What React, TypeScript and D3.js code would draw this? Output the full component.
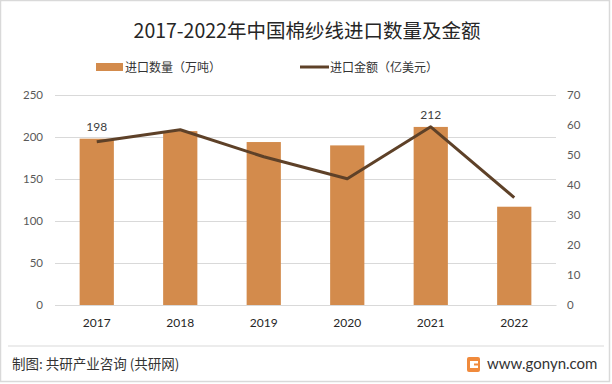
import { useEffect, useRef } from 'react';
import * as d3 from 'd3';

const years = ['2017', '2018', '2019', '2020', '2021', '2022'];
const volume = [198, 207, 194, 190, 212, 117]; // 万吨
const amount = [54.4, 58.4, 49.4, 42.1, 59.4, 35.8]; // 亿美元
const leftTicks = [0, 50, 100, 150, 200, 250];
const rightTicks = [0, 10, 20, 30, 40, 50, 60, 70];
const labelled = ['2017', '2021'];

const CJK = "'Noto Sans CJK SC', sans-serif";
const NUM = "Lato, 'Noto Sans CJK SC', sans-serif";

const App = () => {
    const svgRef = useRef<SVGSVGElement>(null);

    useEffect(() => {
        if (!svgRef.current) return;
        const svg = d3.select(svgRef.current);
        svg.selectAll('*').remove();

        const W = 612, H = 384;
        const margin = { top: 95, right: 56, bottom: 79, left: 55 };
        const width = W - margin.left - margin.right;
        const height = H - margin.top - margin.bottom;

        // background + outer border
        svg.append('rect').attr('x', 0.5).attr('y', 0.5).attr('width', W - 3).attr('height', H - 3)
            .attr('fill', '#fff').attr('stroke', '#d9d9d9').attr('stroke-width', 1.5);

        const x = d3.scaleBand().domain(years).range([0, width]).paddingInner(0.59).paddingOuter(0.295);
        const yL = d3.scaleLinear().domain([0, 250]).range([height, 0]);
        const yR = d3.scaleLinear().domain([0, 70]).range([height, 0]);

        const g = svg.append('g').attr('transform', `translate(${margin.left},${margin.top})`);

        // gridlines
        g.append('g')
            .call(d3.axisLeft(yL).tickValues(leftTicks).tickSize(-width).tickFormat(() => ''))
            .call(a => a.select('.domain').remove())
            .call(a => a.selectAll('line').attr('stroke', '#d9d9d9'));

        // bars
        g.selectAll('.bar').data(years).enter().append('rect')
            .attr('x', d => x(d)!)
            .attr('y', (d, i) => yL(volume[i]))
            .attr('width', x.bandwidth())
            .attr('height', (d, i) => height - yL(volume[i]))
            .attr('fill', '#D38B4C');

        // line
        const line = d3.line<number>()
            .x((d, i) => x(years[i])! + x.bandwidth() / 2)
            .y(d => yR(d));
        g.append('path').datum(amount).attr('d', line)
            .attr('fill', 'none').attr('stroke', '#5E4128').attr('stroke-width', 3)
            .attr('stroke-linejoin', 'round');

        // data labels
        years.forEach((yr, i) => {
            if (!labelled.includes(yr)) return;
            g.append('text')
                .attr('x', x(yr)! + x.bandwidth() / 2)
                .attr('y', yL(volume[i]) - 8)
                .attr('text-anchor', 'middle')
                .style('font-family', NUM).style('font-size', '12px').attr('fill', '#404040')
                .text(volume[i]);
        });

        // left axis labels
        g.append('g')
            .call(d3.axisLeft(yL).tickValues(leftTicks).tickSize(0).tickPadding(12))
            .call(a => a.select('.domain').remove())
            .call(a => a.selectAll('text').style('font-family', NUM).style('font-size', '11.5px').attr('fill', '#595959'));

        // right axis labels
        g.append('g').attr('transform', `translate(${width},0)`)
            .call(d3.axisRight(yR).tickValues(rightTicks).tickSize(0).tickPadding(11))
            .call(a => a.select('.domain').remove())
            .call(a => a.selectAll('text').style('font-family', NUM).style('font-size', '11.5px').attr('fill', '#595959'));

        // x axis
        g.append('g').attr('transform', `translate(0,${height})`)
            .call(d3.axisBottom(x).tickSize(0).tickPadding(13))
            .call(a => a.select('.domain').attr('stroke', '#d9d9d9'))
            .call(a => a.selectAll('text').style('font-family', NUM).style('font-size', '12px').attr('fill', '#262626'));

        // title
        svg.append('text').attr('x', 307).attr('y', 38).attr('text-anchor', 'middle')
            .style('font-family', CJK).style('font-size', '19.5px').style('font-weight', 400)
            .attr('fill', '#262626')
            .text('2017-2022年中国棉纱线进口数量及金额');

        // legend
        const lg = svg.append('g').style('font-family', CJK).style('font-size', '12px').attr('fill', '#333');
        lg.append('rect').attr('x', 96).attr('y', 63).attr('width', 27).attr('height', 8).attr('fill', '#D38B4C');
        lg.append('text').attr('x', 125).attr('y', 71.5).text('进口数量（万吨）');
        lg.append('line').attr('x1', 300).attr('x2', 329).attr('y1', 67).attr('y2', 67)
            .attr('stroke', '#5E4128').attr('stroke-width', 3);
        lg.append('text').attr('x', 330).attr('y', 71.5).text('进口金额（亿美元）');

        // footer
        svg.append('line').attr('x1', 8).attr('x2', 604).attr('y1', 346).attr('y2', 346)
            .attr('stroke', '#d9d9d9').attr('stroke-width', 1);
        svg.append('text').attr('x', 12).attr('y', 369)
            .style('font-family', CJK).style('font-size', '13.5px').attr('fill', '#333')
            .text('制图: 共研产业咨询 (共研网)');
        const logo = svg.append('g').attr('transform', 'translate(467,357)');
        logo.append('rect').attr('width', 13).attr('height', 15).attr('rx', 2).attr('fill', '#F08A3C');
        logo.append('rect').attr('x', 3).attr('y', 4).attr('width', 8).attr('height', 7).attr('fill', '#fff');
        logo.append('rect').attr('x', 7).attr('y', 6.5).attr('width', 4).attr('height', 2).attr('fill', '#F08A3C');
        svg.append('text').attr('x', 487).attr('y', 369)
            .style('font-family', NUM).style('font-size', '15px').attr('fill', '#333')
            .text('www.gonyn.com');
    }, []);

    return (
        <svg ref={svgRef} width={612} height={384}
            style={{ position: 'absolute', left: 0, top: 0, display: 'block' }} />
    );
};

export default App;
